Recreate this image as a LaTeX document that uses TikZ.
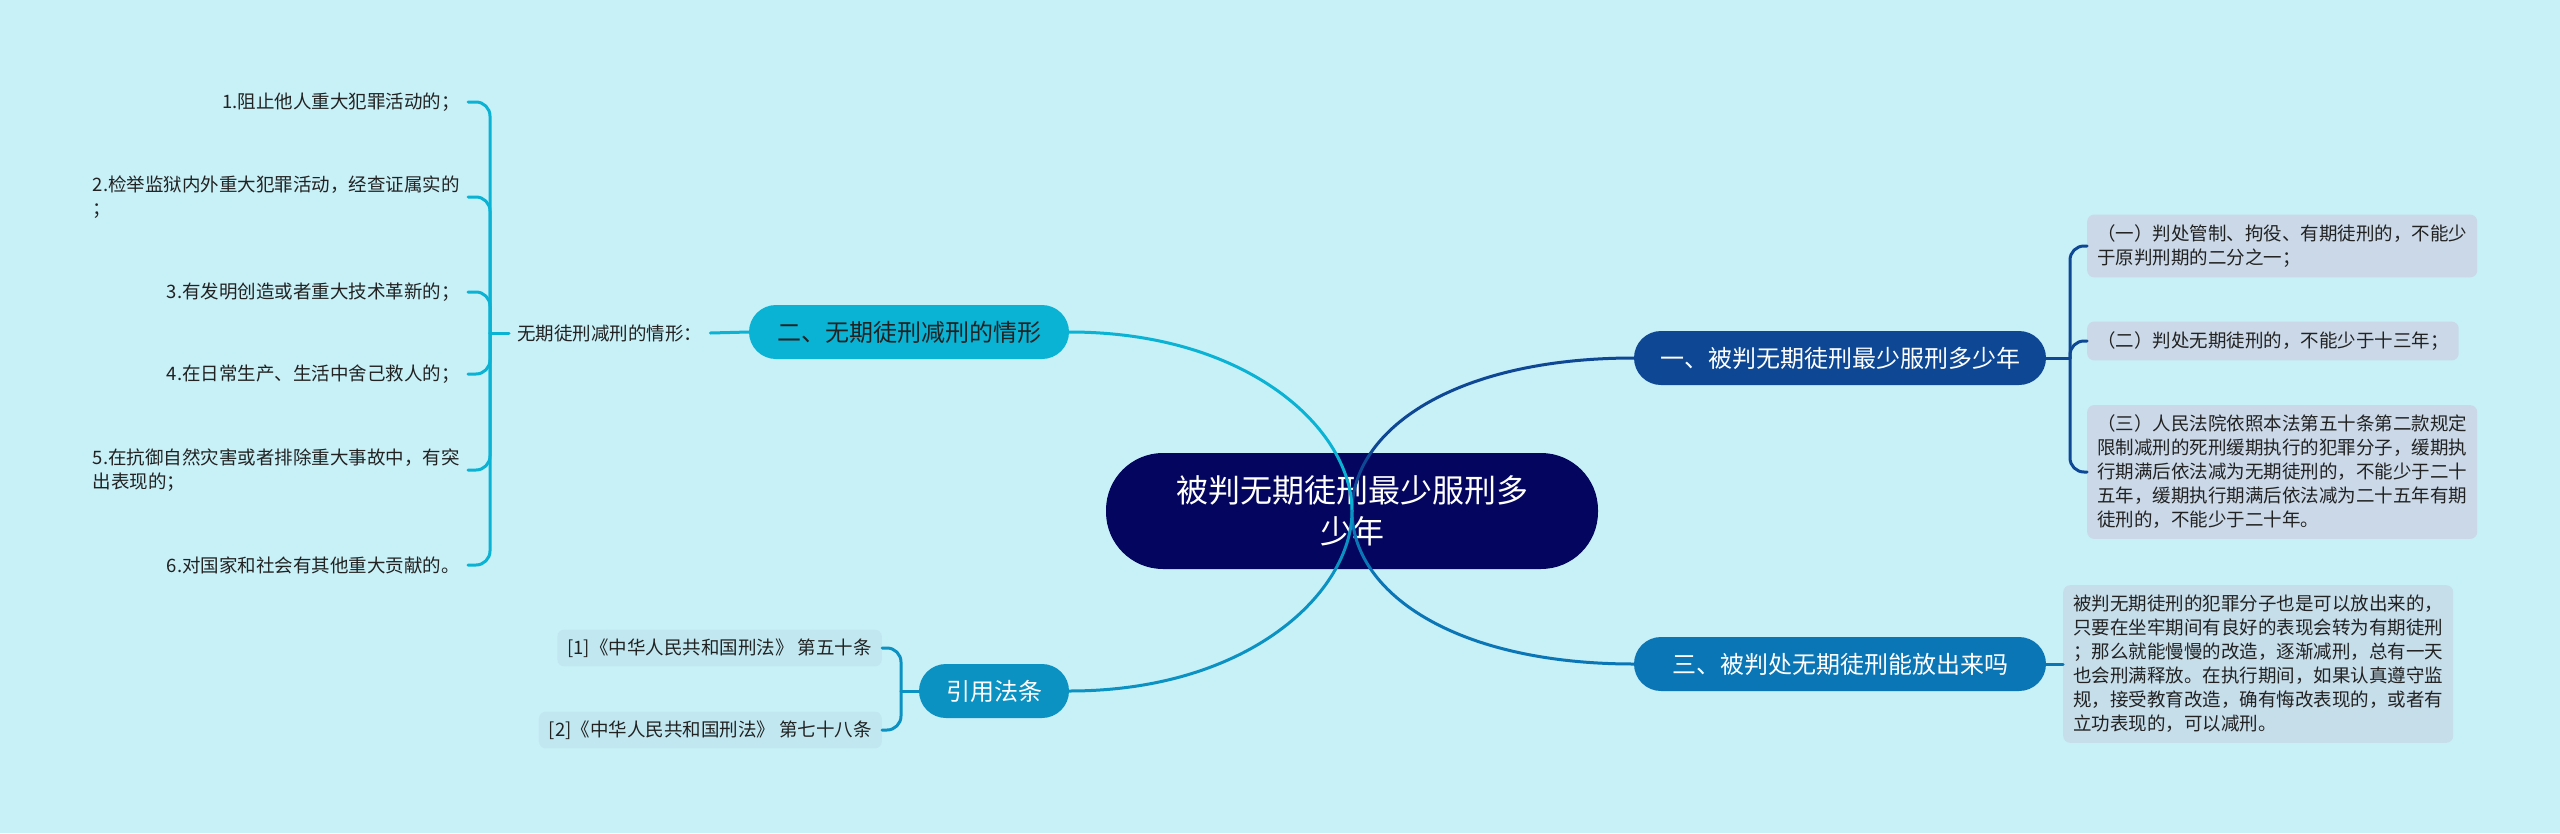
\documentclass[tikz,border=0pt]{standalone}
\usepackage{fontspec}
\setmainfont{Noto Sans CJK SC}
\definecolor{bg}{RGB}{200,240,247}
\definecolor{croot}{RGB}{3,5,94}
\definecolor{cone}{RGB}{14,72,148}
\definecolor{ctwo}{RGB}{10,178,212}
\definecolor{cthree}{RGB}{11,118,182}
\definecolor{cfour}{RGB}{11,146,194}
\definecolor{boxa}{RGB}{202,216,232}
\definecolor{boxb}{RGB}{198,221,234}
\definecolor{boxc}{RGB}{193,232,241}
\definecolor{tdark}{RGB}{34,34,34}
\begin{document}
\begin{tikzpicture}[x=1pt,y=-1pt,
  rootn/.style={rounded corners=57, fill=croot, text=white, minimum width=492, minimum height=116, align=center, inner sep=0, font=\fontsize{32}{41}\selectfont},
  br/.style={rounded corners=27, minimum height=54, text=white, inner sep=0, font=\fontsize{24}{30}\selectfont},
  small/.style={font=\fontsize{18.5}{24}\selectfont, text=tdark, align=left},
  bx/.style={small, fill=boxa, rounded corners=7, inner xsep=10, inner ysep=10},
  item/.style={small, anchor=east, inner xsep=8, inner ysep=2},
  link/.style={line width=3, line cap=round},
]
\useasboundingbox (0,0) rectangle (2560,833);
\fill[bg] (0,0) rectangle (2560,833);

% root and main branches
\node[rootn] (root) at (1352,511) {被判无期徒刑最少服刑多\\少年};
\node[br, fill=cone, minimum width=412] (n1) at (1840,358) {一、被判无期徒刑最少服刑多少年};
\node[br, fill=ctwo, text=tdark, minimum width=320] (n2) at (909,332) {二、无期徒刑减刑的情形};
\node[br, fill=cthree, minimum width=412] (n3) at (1840,664) {三、被判处无期徒刑能放出来吗};
\node[br, fill=cfour, minimum width=150] (n4) at (994,691) {引用法条};

\draw[link, cone] (root.center) .. controls +(0,-81) and +(-180,0) .. (n1.west);
\draw[link, ctwo] (root.center) .. controls +(0,-81) and +(180,0) .. (n2.east);
\draw[link, cthree] (root.center) .. controls +(0,81) and +(-180,0) .. (n3.west);
\draw[link, cfour] (root.center) .. controls +(0,81) and +(180,0) .. (n4.east);

% branch one
\node[bx, anchor=west] (b1) at (2087,246) {（一）判处管制、拘役、有期徒刑的，不能少\\于原判刑期的二分之一；};
\node[bx, anchor=west] (b2) at (2087,341) {（二）判处无期徒刑的，不能少于十三年；};
\node[bx, anchor=west] (b3) at (2087,472) {（三）人民法院依照本法第五十条第二款规定\\限制减刑的死刑缓期执行的犯罪分子，缓期执\\行期满后依法减为无期徒刑的，不能少于二十\\五年，缓期执行期满后依法减为二十五年有期\\徒刑的，不能少于二十年。};
\coordinate (j1) at (2070,358);
\draw[link, cone] (n1.east) -- (j1);
\foreach \b in {b1,b2,b3} \draw[link, cone, rounded corners=14] (j1) |- (\b.west);

% branch three
\node[bx, fill=boxb, anchor=west] (a3) at (2063,664) {被判无期徒刑的犯罪分子也是可以放出来的，\\只要在坐牢期间有良好的表现会转为有期徒刑\\；那么就能慢慢的改造，逐渐减刑，总有一天\\也会刑满释放。在执行期间，如果认真遵守监\\规，接受教育改造，确有悔改表现的，或者有\\立功表现的，可以减刑。};
\draw[link, cthree] (n3.east) -- (a3.west);

% branch two
\node[small, anchor=west, inner xsep=8] (lab) at (509,333) {无期徒刑减刑的情形：};
\draw[link, ctwo] (n2.west) -- (lab.east);
\node[item] (i1) at (468,102) {1.阻止他人重大犯罪活动的；};
\node[item] (i2) at (468,197) {2.检举监狱内外重大犯罪活动，经查证属实的\\；};
\node[item] (i3) at (468,292) {3.有发明创造或者重大技术革新的；};
\node[item] (i4) at (468,374) {4.在日常生产、生活中舍己救人的；};
\node[item] (i5) at (468,470) {5.在抗御自然灾害或者排除重大事故中，有突\\出表现的；};
\node[item] (i6) at (468,565) {6.对国家和社会有其他重大贡献的。};
\coordinate (j2) at (490,333);
\draw[link, ctwo] (lab.west) -- (j2);
\foreach \i in {i1,i2,i3,i4,i5,i6} \draw[link, ctwo, rounded corners=14] (j2) |- (\i.east);

% references
\node[small, fill=boxc, rounded corners=7, anchor=east, inner xsep=10, inner ysep=9] (r1) at (882,648) {[1]《中华人民共和国刑法》 第五十条};
\node[small, fill=boxc, rounded corners=7, anchor=east, inner xsep=10, inner ysep=9] (r2) at (882,730) {[2]《中华人民共和国刑法》 第七十八条};
\coordinate (j4) at (901,691);
\draw[link, cfour] (n4.west) -- (j4);
\foreach \r in {r1,r2} \draw[link, cfour, rounded corners=14] (j4) |- (\r.east);
\end{tikzpicture}
\end{document}
